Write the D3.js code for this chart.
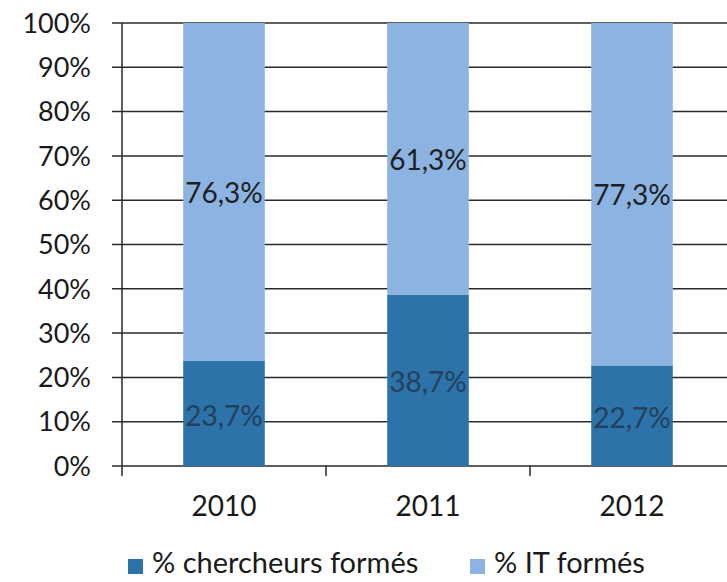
<!DOCTYPE html>
<html><head><meta charset="utf-8">
<script src="https://cdn.jsdelivr.net/npm/d3@7"></script>
<style>body{margin:0;background:#fff}svg{display:block}text{font-family:Lato,"Open Sans",sans-serif}</style>
</head><body><svg id="c" width="727" height="582"></svg>
<script>
const categories = ["2010","2011","2012"];
const chercheurs = [23.7, 38.7, 22.7];
const itFormes = [76.3, 61.3, 77.3];
const seriesNames = ["% chercheurs formés","% IT formés"];
const yTicks = [0,10,20,30,40,50,60,70,80,90,100];

(function(){
const colors = ["#2c73aa","#8db3e3"];
const svg = d3.select("#c");
const pL = 122, pR = 734, pT = 23, pB = 466;
const x = d3.scaleBand().domain(categories).range([pL, pR]).paddingInner(0).paddingOuter(0);
const y = d3.scaleLinear().domain([0,100]).range([pB, pT]);
const fmt = v => v.toFixed(1).replace(".", ",") + "%";

svg.append("g").selectAll("line").data(yTicks).join("line")
  .attr("x1", pL - 10).attr("x2", pR).attr("y1", d => y(d)).attr("y2", d => y(d))
  .attr("stroke", "#2a2a2a").attr("stroke-width", 1.5);
svg.append("g").selectAll("text").data(yTicks).join("text")
  .attr("x", 91).attr("y", d => y(d)).attr("dy", "0.36em").attr("text-anchor", "end")
  .attr("font-size", 27).attr("fill", "#1a1a1a").text(d => d + "%");
const stacked = categories.map((c,i) => ({c, segs:[
  {s:0, y0:0, y1:chercheurs[i], v:chercheurs[i]},
  {s:1, y0:chercheurs[i], y1:chercheurs[i]+itFormes[i], v:itFormes[i]}]}));
const bw = x.bandwidth()*0.4;
const g = svg.append("g");
stacked.forEach(d => {
  const cx = x(d.c) + x.bandwidth()/2;
  d.segs.forEach(s => {
    g.append("rect").attr("x", cx - bw/2).attr("width", bw)
      .attr("y", y(s.y1)).attr("height", y(s.y0) - y(s.y1)).attr("fill", colors[s.s]);
  });
});
stacked.forEach(d => {
  const cx = x(d.c) + x.bandwidth()/2;
  d.segs.forEach(s => {
    g.append("text").attr("x", cx).attr("y", y((s.y0+s.y1)/2) + (s.s===0 ? 2 : 1)).attr("dy","0.36em")
      .attr("text-anchor","middle").attr("font-size", 28)
      .attr("fill", s.s===0 ? "#24405c" : "#1f1f1f").text(fmt(s.v));
  });
});
svg.append("line").attr("x1", pL).attr("x2", pL).attr("y1", pT).attr("y2", pB + 10)
  .attr("stroke", "#2a2a2a").attr("stroke-width", 1.5);
svg.append("g").selectAll("line").data(categories.slice(1)).join("line")
  .attr("x1", d => x(d)).attr("x2", d => x(d)).attr("y1", pB).attr("y2", pB + 10)
  .attr("stroke", "#2a2a2a").attr("stroke-width", 1.5);
svg.append("g").selectAll("text").data(categories).join("text")
  .attr("x", d => x(d) + x.bandwidth()/2).attr("y", 506).attr("dy","0.36em")
  .attr("text-anchor","middle").attr("font-size", 28).attr("fill","#1a1a1a").text(d => d);
const legX = [128, 470];
seriesNames.forEach((n,i) => {
  svg.append("rect").attr("x", legX[i]).attr("y", 559).attr("width", 15).attr("height", 15).attr("fill", colors[i]);
  svg.append("text").attr("x", legX[i] + 24).attr("y", 563).attr("dy","0.36em")
    .attr("font-size", 29).attr("fill","#1a1a1a").text(n);
});
})();
</script></body></html>
